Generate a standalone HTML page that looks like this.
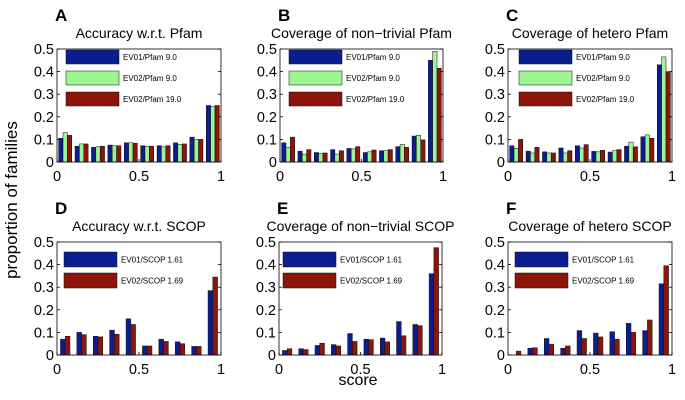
<!DOCTYPE html>
<html><head><meta charset="utf-8"><style>
body{margin:0;background:#fff;}
svg{display:block;font-family:"Liberation Sans",Arial,sans-serif;}
</style></head><body>
<svg id="fig" width="685" height="400"></svg>
<script>
const bins = [0.05,0.15,0.25,0.35,0.45,0.55,0.65,0.75,0.85,0.95];
const yTicks = [0,0.1,0.2,0.3,0.4,0.5];
const yTickLabels = ["0","0.1","0.2","0.3","0.4","0.5"];
const xTicks = [0,0.5,1];
const xTickLabels = ["0","0.5","1"];
const aBlue = [.105,.07,.065,.075,.085,.072,.072,.085,.11,.25];
const aGreen = [.13,.08,.067,.072,.085,.07,.067,.078,.1,.245];
const aRed = [.118,.08,.07,.072,.083,.07,.072,.08,.1,.25];
const bBlue = [.085,.048,.042,.055,.06,.042,.05,.068,.115,.45];
const bGreen = [.065,.035,.037,.035,.058,.045,.05,.078,.118,.49];
const bRed = [.11,.055,.04,.05,.068,.053,.055,.065,.098,.415];
const cBlue = [.072,.048,.045,.062,.072,.047,.044,.07,.112,.43];
const cGreen = [.06,.04,.04,.04,.062,.045,.05,.088,.12,.465];
const cRed = [.1,.065,.04,.05,.077,.052,.055,.067,.105,.4];
const dBlue = [.07,.1,.083,.11,.16,.04,.07,.058,.038,.285];
const dRed = [.083,.09,.08,.092,.135,.04,.06,.05,.038,.345];
const eBlue = [.02,.028,.042,.046,.095,.07,.075,.148,.135,.36];
const eRed = [.028,.024,.052,.04,.06,.068,.058,.085,.13,.475];
const fBlue = [0,.03,.073,.03,.108,.097,.103,.14,.108,.315];
const fRed = [.017,.032,.048,.04,.073,.08,.07,.1,.155,.395];
const pfamLegend = ["EV01/Pfam 9.0","EV02/Pfam 9.0","EV02/Pfam 19.0"];
const scopLegend = ["EV01/SCOP 1.61","EV02/SCOP 1.69"];

const NS="http://www.w3.org/2000/svg";
const svg=document.getElementById('fig');
function mk(tag,attrs,parent){const e=document.createElementNS(NS,tag);for(const k in attrs)e.setAttribute(k,attrs[k]);(parent||svg).appendChild(e);return e;}
const COL={blue:"#0b1e90",green:"#9cf590",red:"#8c1409"};

const panels=[
 {id:"a",letter:"A",title:"Accuracy w.r.t. Pfam",x0:57,x1:221,y0:49,y1:162,series:[aBlue,aGreen,aRed],cols:[COL.blue,COL.green,COL.red],leg:pfamLegend,lx:66,ly:50,lw:53,lh:14,lgap:21},
 {id:"b",letter:"B",title:"Coverage of non\u2212trivial Pfam",x0:280,x1:443,y0:49,y1:162,series:[bBlue,bGreen,bRed],cols:[COL.blue,COL.green,COL.red],leg:pfamLegend,lx:289,ly:50,lw:53,lh:14,lgap:21},
 {id:"c",letter:"C",title:"Coverage of hetero Pfam",x0:508,x1:672,y0:49,y1:162,series:[cBlue,cGreen,cRed],cols:[COL.blue,COL.green,COL.red],leg:pfamLegend,lx:519,ly:50,lw:53,lh:14,lgap:21},
 {id:"d",letter:"D",title:"Accuracy w.r.t. SCOP",x0:57,x1:221,y0:242,y1:355,series:[dBlue,dRed],cols:[COL.blue,COL.red],leg:scopLegend,lx:64,ly:252,lw:53,lh:15,lgap:21},
 {id:"e",letter:"E",title:"Coverage of non\u2212trivial SCOP",x0:279,x1:442,y0:242,y1:355,series:[eBlue,eRed],cols:[COL.blue,COL.red],leg:scopLegend,lx:283,ly:252,lw:53,lh:15,lgap:21},
 {id:"f",letter:"F",title:"Coverage of hetero SCOP",x0:508,x1:672,y0:242,y1:355,series:[fBlue,fRed],cols:[COL.blue,COL.red],leg:scopLegend,lx:515,ly:252,lw:53,lh:15,lgap:21}
];

panels.forEach(p=>{
  const g=mk('g',{});
  
  
  const xs=v=>p.x0+v*(p.x1-p.x0);
  const ys=v=>p.y1-v/0.5*(p.y1-p.y0);
  const binW=(p.x1-p.x0)*0.1;
  const n=p.series.length;
  const bw=n===3?binW*0.8/3:binW*0.58/2;
  const L=mk('text',{x:p.x0-2,y:p.y0-28,'font-size':17,'font-weight':'bold',fill:'#000'},g);L.textContent=p.letter;
  
  
  const T=mk('text',{x:(p.x0+p.x1)/2,y:p.y0-11,'font-size':14,'text-anchor':'middle',fill:'#000'},g);T.textContent=p.title;
  
  
  p.series.forEach((s,si)=>{
    s.forEach((v,i)=>{
      if(v<=0)return;
      const cx=xs(bins[i])+(si-(n-1)/2)*bw;
      const r=mk('rect',{x:cx-bw/2,y:ys(v),width:bw,height:ys(0)-ys(v),fill:p.cols[si],stroke:'#111','stroke-width':0.5},g);
      
      
    });
  });
  const box=mk('rect',{x:p.x0,y:p.y0,width:p.x1-p.x0,height:p.y1-p.y0,fill:'none',stroke:'#000','stroke-width':0.8},g);
  
  
  yTicks.forEach((t,i)=>{
    mk('line',{x1:p.x0,x2:p.x0+3,y1:ys(t),y2:ys(t),stroke:'#000','stroke-width':0.8},g);
    mk('line',{x1:p.x1,x2:p.x1-3,y1:ys(t),y2:ys(t),stroke:'#000','stroke-width':0.8},g);
    const tl=mk('text',{x:p.x0-3,y:ys(t)+5,'font-size':14.5,'text-anchor':'end',fill:'#000'},g);tl.textContent=yTickLabels[i];
    
    
  });
  xTicks.forEach((t,i)=>{
    mk('line',{x1:xs(t),x2:xs(t),y1:p.y1,y2:p.y1-3,stroke:'#000','stroke-width':0.8},g);
    const tl=mk('text',{x:xs(t),y:p.y1+19,'font-size':14.5,'text-anchor':'middle',fill:'#000'},g);tl.textContent=xTickLabels[i];
    
    
  });
  p.leg.forEach((lab,i)=>{
    const y=p.ly+i*p.lgap;
    const r=mk('rect',{x:p.lx,y:y,width:p.lw,height:p.lh,fill:p.cols[i],stroke:'#111','stroke-width':0.5},g);
    
    
    const t=mk('text',{x:p.lx+p.lw+4,y:y+p.lh/2+3,'font-size':8,fill:'#000'},g);t.textContent=lab;
    
    
  });
});
const yl=mk('text',{x:0,y:0,'font-size':17,'text-anchor':'middle',fill:'#000',transform:'translate(17,200) rotate(-90)'});
yl.textContent='proportion of families';


const xl=mk('text',{x:358,y:385,'font-size':16,'text-anchor':'middle',fill:'#000'});
xl.textContent='score';


</script>
</body></html>
